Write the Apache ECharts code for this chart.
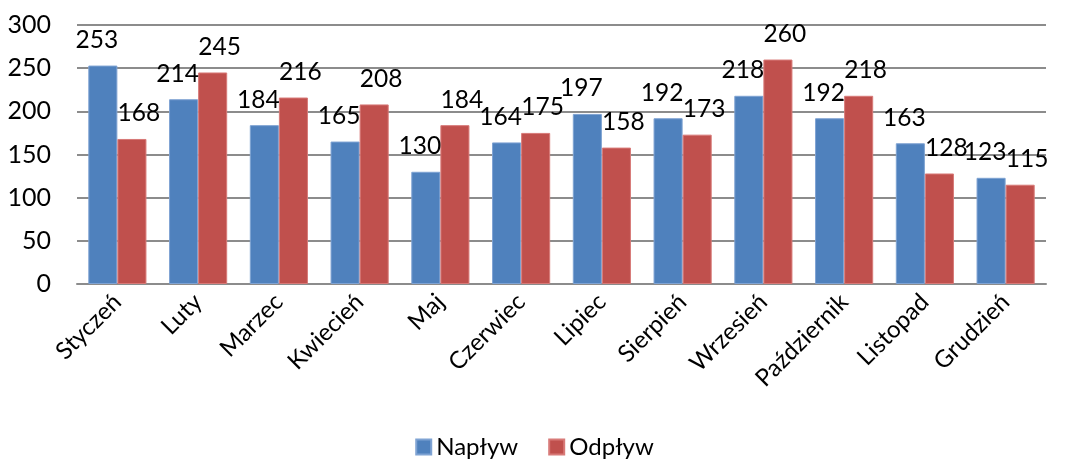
<!DOCTYPE html>
<html><head><meta charset="utf-8">
<script src="https://cdn.jsdelivr.net/npm/echarts@6/dist/echarts.min.js"></script>
<style>html,body{margin:0;padding:0;background:#fff}#c{width:1069px;height:464px}</style>
</head><body><div id="c"></div>
<script>
var categories = ['Styczeń','Luty','Marzec','Kwiecień','Maj','Czerwiec','Lipiec','Sierpień','Wrzesień','Październik','Listopad','Grudzień'];
var naplyw = [253,214,184,165,130,164,197,192,218,192,163,123];
var odplyw = [168,245,216,208,184,175,158,173,260,218,128,115];
var yTicks = {min:0, max:300, interval:50};
var FONT = 'Lato';
var chart = echarts.init(document.getElementById('c'));
function lbl(dx){ return {show:true, position:'top', distance:13, offset:[dx,0], color:'#000', fontSize:24.5, fontFamily:FONT}; }
chart.setOption({
  animation:false,
  textStyle:{fontFamily:FONT},
  grid:{left:77, right:23, top:25, bottom:180, containLabel:false},
  legend:{bottom:0, left:'center', itemWidth:15, itemHeight:15, itemGap:30, icon:'rect',
    textStyle:{fontSize:24, color:'#000', fontFamily:FONT},
    data:['Napływ','Odpływ']},
  xAxis:{type:'category', data:categories,
    axisLine:{lineStyle:{color:'#8c8c8c', width:2}}, axisTick:{show:false},
    axisLabel:{rotate:45, fontSize:24, color:'#000', fontFamily:FONT, margin:14, interval:0}},
  yAxis:{type:'value', min:yTicks.min, max:yTicks.max, interval:yTicks.interval,
    axisLine:{show:false}, axisTick:{show:false},
    splitLine:{lineStyle:{color:'#8c8c8c', width:2}},
    axisLabel:{fontSize:25, color:'#000', fontFamily:FONT, margin:26}},
  series:[
    {name:'Napływ', type:'bar', data:naplyw, barGap:'0%', barCategoryGap:'28%',
     itemStyle:{color:'#4F81BD', borderColor:'#7FA3D3', borderWidth:1}, label:lbl(-6)},
    {name:'Odpływ', type:'bar', data:odplyw,
     itemStyle:{color:'#C0504D', borderColor:'#D87A78', borderWidth:1}, label:lbl(7)}
  ]
});
</script></body></html>
